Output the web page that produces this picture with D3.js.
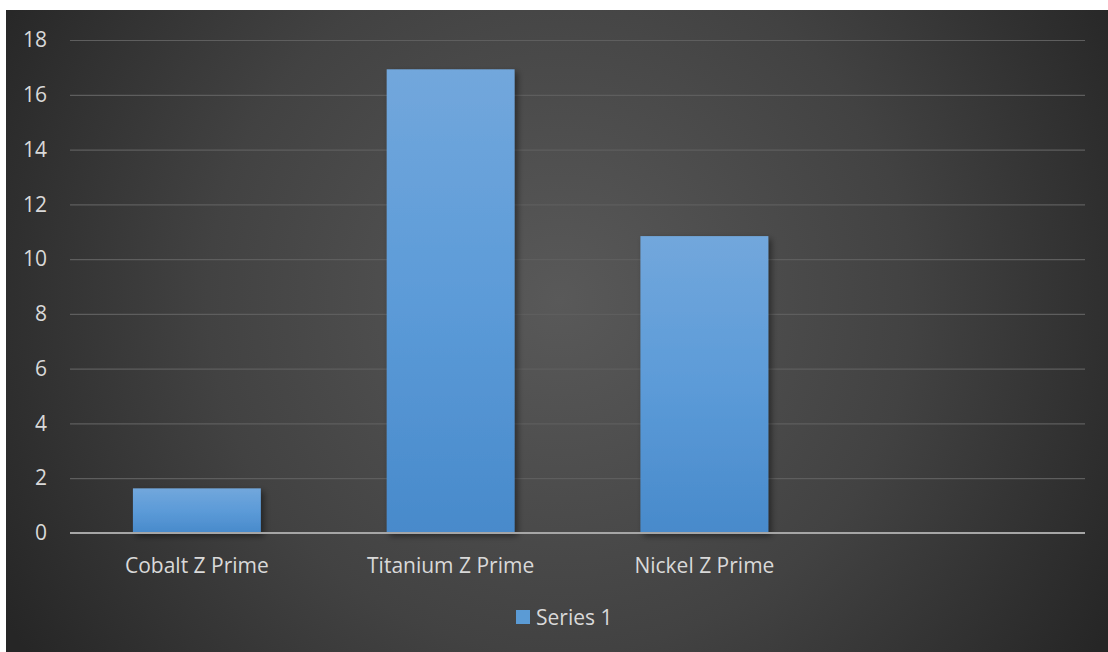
<!DOCTYPE html>
<html>
<head>
<meta charset="utf-8">
<script src="https://cdn.jsdelivr.net/npm/d3@7"></script>
<style>
  html, body { margin: 0; padding: 0; background: #ffffff; }
  svg { display: block; }
  text { font-family: "Open Sans", Lato, sans-serif; }
</style>
</head>
<body>
<div id="chart"></div>
<script>
// Chart data
const categories = ["Cobalt Z Prime", "Titanium Z Prime", "Nickel Z Prime", ""];
const series1 = [1.63, 16.93, 10.84, null];
const yTicks = [0, 2, 4, 6, 8, 10, 12, 14, 16, 18];
const seriesName = "Series 1";

const W = 1108, H = 652;
const frame = { x: 6, y: 10, w: W - 6, h: H - 10 };
const plot = { left: 70, right: 1085, top: 40, bottom: 533 };
const FONT = "'Open Sans', Lato, sans-serif";

const svg = d3.select("#chart").append("svg")
  .attr("width", W).attr("height", H);

const defs = svg.append("defs");

// Dark radial background
const bg = defs.append("radialGradient").attr("id", "bgGrad")
  .attr("gradientUnits", "userSpaceOnUse")
  .attr("cx", 560).attr("cy", 300).attr("r", 640);
bg.append("stop").attr("offset", "0%").attr("stop-color", "#595959");
bg.append("stop").attr("offset", "55%").attr("stop-color", "#424242");
bg.append("stop").attr("offset", "100%").attr("stop-color", "#262626");

// Bar fill
const barGrad = defs.append("linearGradient").attr("id", "barGrad")
  .attr("x1", 0).attr("y1", 0).attr("x2", 0).attr("y2", 1);
barGrad.append("stop").attr("offset", "0%").attr("stop-color", "#72a7dc");
barGrad.append("stop").attr("offset", "50%").attr("stop-color", "#5c9bd8");
barGrad.append("stop").attr("offset", "100%").attr("stop-color", "#488acb");

// Soft shadow behind bars
const shadow = defs.append("filter").attr("id", "barShadow")
  .attr("x", "-20%").attr("y", "-20%").attr("width", "140%").attr("height", "140%");
shadow.append("feDropShadow")
  .attr("dx", 3).attr("dy", 3).attr("stdDeviation", 3)
  .attr("flood-color", "#000").attr("flood-opacity", 0.45);

svg.append("rect")
  .attr("x", frame.x).attr("y", frame.y)
  .attr("width", frame.w).attr("height", frame.h)
  .attr("fill", "url(#bgGrad)");

const x = d3.scaleBand().domain(categories.map((d, i) => i))
  .range([plot.left, plot.right]).paddingInner(0.496).paddingOuter(0.248);
const y = d3.scaleLinear().domain([0, 18]).range([plot.bottom, plot.top]);

// Gridlines
svg.append("g")
  .attr("transform", `translate(${plot.left},0)`)
  .call(d3.axisLeft(y).tickValues(yTicks.filter(t => t > 0))
    .tickSize(-(plot.right - plot.left)).tickFormat(""))
  .call(g => g.select(".domain").remove())
  .call(g => g.selectAll("line").attr("stroke", "#5e5e5e").attr("stroke-width", 1.2));

// Y tick labels
svg.append("g")
  .attr("transform", `translate(${plot.left},0)`)
  .call(d3.axisLeft(y).tickValues(yTicks).tickSize(0).tickPadding(23))
  .call(g => g.select(".domain").remove())
  .call(g => g.selectAll("text")
    .attr("fill", "#d9d9d9").attr("font-size", 21)
    .style("font-family", FONT));

// Bars
svg.append("g").selectAll("rect")
  .data(series1.map((v, i) => ({ v, i })).filter(d => d.v != null))
  .join("rect")
  .attr("x", d => x(d.i))
  .attr("y", d => y(d.v))
  .attr("width", x.bandwidth())
  .attr("height", d => y(0) - y(d.v))
  .attr("fill", "url(#barGrad)")
  .attr("filter", "url(#barShadow)");

// Category axis
svg.append("g")
  .attr("transform", `translate(0,${plot.bottom})`)
  .call(d3.axisBottom(x).tickSize(0).tickPadding(25).tickFormat(i => categories[i]))
  .call(g => g.select(".domain")
    .attr("stroke", "#a6a6a6").attr("stroke-width", 2)
    .attr("d", `M${plot.left},0H${plot.right}`))
  .call(g => g.selectAll("text")
    .attr("fill", "#d9d9d9").attr("font-size", 21)
    .style("font-family", FONT));

// Legend
const legend = svg.append("g").attr("transform", "translate(516,610)");
legend.append("rect").attr("width", 14).attr("height", 14).attr("fill", "#5b9bd5");
legend.append("text").attr("x", 20).attr("y", 7).attr("dy", "0.36em")
  .attr("fill", "#d9d9d9").attr("font-size", 21).style("font-family", FONT).text(seriesName);
</script>
</body>
</html>
